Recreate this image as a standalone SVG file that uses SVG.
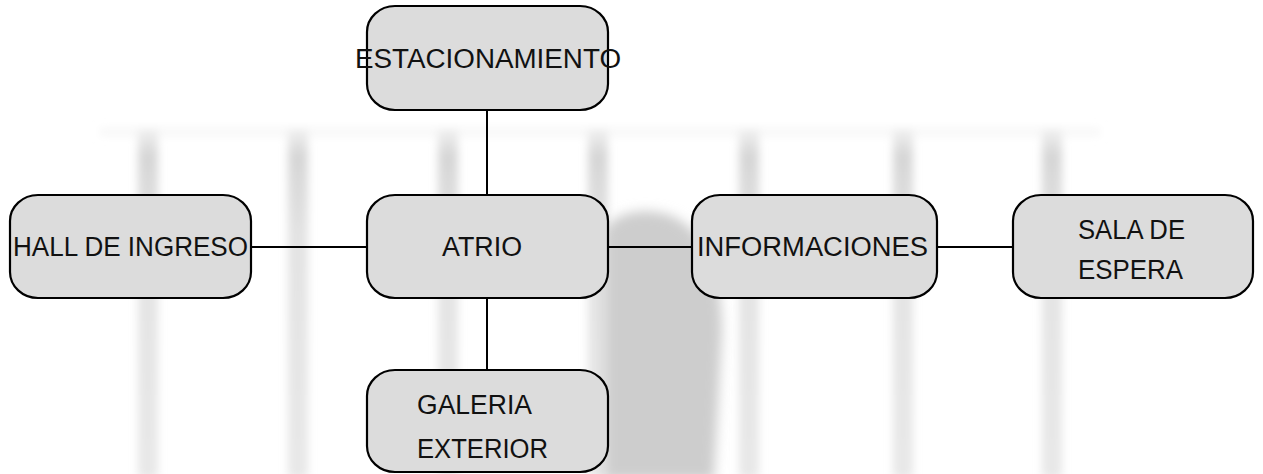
<svg xmlns="http://www.w3.org/2000/svg" width="1263" height="474" viewBox="0 0 1263 474">
<style>
.box{fill:#dcdcdc;stroke:#000;stroke-width:2.2}
.lbl{font-family:"Liberation Sans",Arial,sans-serif;font-size:27px;fill:#111}
.conn{stroke:#000;stroke-width:2;fill:none}
.bar{fill:url(#barg)}
</style>
<defs>
<filter id="blur" x="-20%" y="-20%" width="140%" height="140%"><feGaussianBlur stdDeviation="4"/></filter>
<filter id="blur2" x="-20%" y="-20%" width="140%" height="140%"><feGaussianBlur stdDeviation="6"/></filter>
<linearGradient id="barg" x1="0" y1="0" x2="0" y2="1" gradientUnits="objectBoundingBox">
<stop offset="0" stop-color="#f2f2f2"/>
<stop offset="0.08" stop-color="#d6d6d6"/>
<stop offset="0.3" stop-color="#e3e3e3"/>
<stop offset="1" stop-color="#e8e8e8"/>
</linearGradient>
</defs>
<rect width="1263" height="474" fill="#fff"/>
<g id="background" filter="url(#blur)">
<rect x="100" y="128" width="1000" height="8" fill="#f7f7f7"/>
<rect class="bar" x="138" y="128" width="20" height="350"/>
<rect class="bar" x="288" y="128" width="20" height="350"/>
<rect class="bar" x="438" y="128" width="20" height="350"/>
<rect class="bar" x="588" y="128" width="20" height="350"/>
<rect class="bar" x="739" y="128" width="20" height="350"/>
<rect class="bar" x="893" y="128" width="20" height="350"/>
<rect class="bar" x="1042" y="128" width="20" height="350"/>
</g>
<path d="M604 480 L604 232 C612 214 638 208 662 213 C702 222 722 268 722 332 L714 480 Z" fill="#cdcdcd" filter="url(#blur2)"/>
<g id="connectors">
<line class="conn" x1="487" y1="110" x2="487" y2="195"/>
<line class="conn" x1="487" y1="298" x2="487" y2="370"/>
<line class="conn" x1="251" y1="247" x2="367" y2="247"/>
<line class="conn" x1="608" y1="247" x2="692" y2="247"/>
<line class="conn" x1="937" y1="247" x2="1013" y2="247"/>
</g>
<g id="estacionamiento">
<rect class="box" x="367" y="6" width="241" height="104" rx="28" ry="26"/>
<text class="lbl" x="355" y="68" textLength="266" lengthAdjust="spacingAndGlyphs">ESTACIONAMIENTO</text>
</g>
<g id="hall">
<rect class="box" x="10" y="195" width="241" height="103" rx="28" ry="26"/>
<text class="lbl" x="13" y="256" textLength="235" lengthAdjust="spacingAndGlyphs">HALL DE INGRESO</text>
</g>
<g id="atrio">
<rect class="box" x="367" y="195" width="241" height="103" rx="28" ry="26"/>
<text class="lbl" x="442" y="256" textLength="80" lengthAdjust="spacingAndGlyphs">ATRIO</text>
</g>
<g id="informaciones">
<rect class="box" x="692" y="195" width="245" height="103" rx="28" ry="26"/>
<text class="lbl" x="697" y="256" textLength="231" lengthAdjust="spacingAndGlyphs">INFORMACIONES</text>
</g>
<g id="sala">
<rect class="box" x="1013" y="195" width="240" height="103" rx="28" ry="26"/>
<text class="lbl" x="1078" y="239" textLength="107" lengthAdjust="spacingAndGlyphs">SALA DE</text>
<text class="lbl" x="1078" y="279" textLength="105" lengthAdjust="spacingAndGlyphs">ESPERA</text>
</g>
<g id="galeria">
<rect class="box" x="367" y="370" width="241" height="102" rx="28" ry="26"/>
<text class="lbl" x="417" y="414" textLength="115" lengthAdjust="spacingAndGlyphs">GALERIA</text>
<text class="lbl" x="417" y="458" textLength="131" lengthAdjust="spacingAndGlyphs">EXTERIOR</text>
</g>
</svg>
